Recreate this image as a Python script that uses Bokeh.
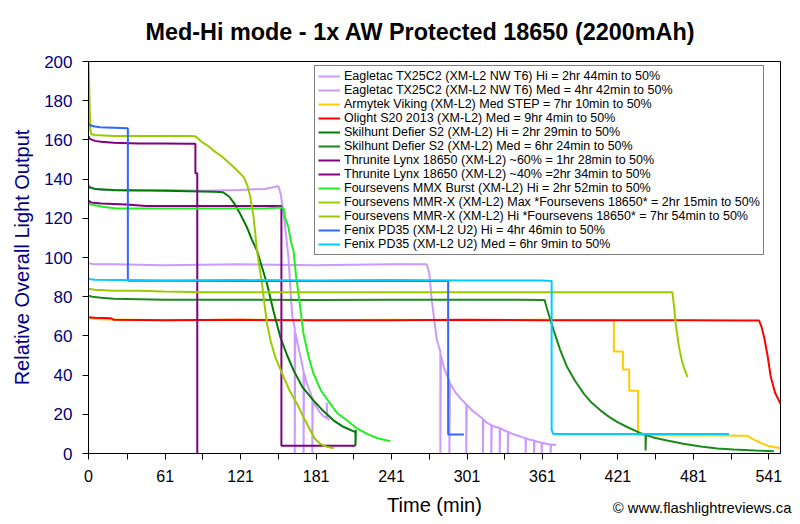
from bokeh.plotting import figure
from bokeh.models import Legend, LegendItem, FixedTicker, LinearAxis, Range1d
from bokeh.embed import file_html
from bokeh.resources import INLINE

FONT = "Liberation Sans"
NAVY = "#000080"

# ---- series data (minutes, relative output) ----
eag_hi_x = [0, 2, 10, 30, 60, 90, 120, 140, 148, 151, 153, 156, 159, 162, 164, 164, 164.4, 167, 170, 171, 171, 171.4,
            174, 177, 178, 178, 178.4, 181, 184, 187, 189.5, 189.5, 190, 191.5]
eag_hi_y = [137, 135.5, 134.5, 134, 134.5, 134, 134.5, 135, 136, 136.5, 132, 118, 100, 70, 64, 0, 62, 54, 45, 42, 0, 41,
            35, 30, 28, 0, 27, 24, 21, 19, 18, 26, 18, 17]

eag_med_x = [0, 5, 20, 60, 120, 180, 240, 265, 269, 271, 273, 275, 277, 279.8, 279.8, 280.2, 283, 287, 287, 287.4,
             292, 296, 300.4, 300.4, 300.8, 305, 309, 313.6, 313.6, 314, 317, 320.3, 320.3, 320.7, 324, 327, 327, 327.4,
             330, 333.5, 333.5, 333.9, 337, 341, 344, 347.6, 347.6, 348, 351, 354.3, 354.3, 354.7, 357, 360.3, 360.3,
             360.7, 364, 367.5, 367.5, 367.9, 372]
eag_med_y = [97, 96.5, 96.5, 96, 96.5, 96, 96.5, 96.5, 96.5, 92, 78, 68, 58, 52, 0, 50, 43, 37, 0, 36,
             31, 28, 25, 0, 25, 22, 20, 17.7, 0, 17.5, 15.5, 14.5, 0, 14.3, 13.5, 13, 0, 13,
             12, 11, 0, 11, 10, 9.2, 8.5, 7.8, 0, 7.7, 7, 6.6, 0, 6.5, 6, 5.5, 0,
             5.5, 5, 4.6, 0, 4.6, 4.4]

arm_x = [0, 10, 60, 120, 180, 240, 300, 360, 400, 417.8, 417.8, 425, 425, 430, 430, 437, 437, 445, 470, 500, 524,
         528, 534, 540, 545, 550]
arm_y = [69, 68.5, 68, 68.3, 68, 68.2, 68, 68.2, 68, 68, 52, 52, 42.8, 42.8, 32, 32, 9.5, 9.3, 9.2, 9.2, 9,
         7.5, 5.5, 4, 3.3, 2.8]

oli_x = [0, 5, 18, 20, 60, 120, 180, 240, 300, 360, 420, 480, 520, 533.3, 535, 537.3, 540, 542.6, 546, 550.3]
oli_y = [69.5, 69.3, 69, 68.2, 68, 68.2, 68, 68, 68.2, 68, 68, 68, 67.8, 67.8, 65, 59.3, 50, 39, 31, 25.3]

skh_hi_x = [0, 5, 20, 60, 100, 107, 112, 116, 120, 126, 130, 134, 138, 142, 147, 152.6, 158, 163.2, 170, 179, 187,
            195, 203, 212.3, 212.3, 212.6]
skh_hi_y = [136, 135, 134.5, 134, 133.5, 133.3, 131, 127.5, 123, 115.4, 109, 103.5, 95, 86.5, 73, 59.3, 50, 42.3, 34,
            27, 21.5, 16.8, 13.5, 10.9, 4, 12]

skh_med_x = [0, 3, 10, 20, 60, 120, 180, 240, 300, 340, 362.7, 365, 370, 375, 380.7, 387, 394, 400, 407.3, 414,
             420.6, 430, 439, 443, 443, 443.4, 450, 460, 473, 486.9, 500, 513, 530, 545]
skh_med_y = [80.5, 80, 79.5, 79, 78.5, 78.5, 78.3, 78.5, 78.5, 78.5, 78.3, 73, 62.7, 53, 44, 37, 30.4, 26, 21.9,
             18.7, 16, 13, 10.4, 9.7, 1.5, 9.5, 8, 6.6, 5, 3.6, 2.6, 2, 1.5, 1.2]

thr60_x = [0, 1, 5, 10, 20, 40, 60, 80, 85, 85, 86.5, 86.5]
thr60_y = [162, 160.5, 159.5, 159, 158.5, 158.2, 158.2, 158, 158, 143, 143, 0]

thr40_x = [0, 2, 10, 30, 46, 80, 120, 150, 153.4, 153.4, 180, 212.3]
thr40_y = [129, 128, 127.5, 127, 126.3, 126.3, 126.3, 126.3, 126.3, 4, 4, 4]

mmx_x = [0, 2, 10, 22, 60, 100, 140, 153, 155.2, 156.5, 159, 161, 163, 165, 167, 169, 171, 175, 179, 185, 192.4,
         198, 205.7, 213, 221.6, 230, 240]
mmx_y = [127.5, 127, 126, 125, 125, 125, 125, 125.5, 125, 120, 115.4, 108, 103.5, 91, 81.4, 71, 61, 49.5, 40.6, 32,
         25.3, 20.5, 16.8, 13, 10, 7.8, 6.3]

mmr_max_x = [0, 0.5, 1, 1.5, 2, 5, 20, 50, 80, 85, 90, 95, 99.5, 106, 112.8, 118, 123.4, 126.5, 128.7, 131.3, 134,
             136, 138, 140, 142, 145, 148.6, 155.2, 160, 165.9, 171, 176.5, 180, 184.4, 189, 195]
mmr_max_y = [200, 190, 175, 165, 163, 162.5, 162, 162, 162, 161.8, 159, 157, 154.5, 151.5, 147.7, 144.5, 141, 136.5,
             130.7, 120.5, 103.5, 95, 86.5, 76, 66, 57, 49, 39, 32, 25.3, 18.5, 11.7, 7.5, 4.9, 3.5, 2.7]

mmr_hi_x = [0, 5, 20, 40, 60, 94, 120, 180, 240, 300, 360, 420, 460, 464.3, 465.5, 467, 469.6, 472, 474, 476.3]
mmr_hi_y = [84, 83.5, 83, 83, 82.7, 82.3, 82.3, 82.3, 82.3, 82.3, 82.3, 82.3, 82.3, 82.3, 76, 66, 54.2, 47, 43, 39]

pd_hi_x = [0, 1, 5, 9, 20, 31.3, 31.3, 60, 120, 180, 240, 280, 286, 286, 292, 298.5]
pd_hi_y = [168.5, 167.5, 166.8, 166.4, 166.2, 166, 88.2, 88.2, 88, 88, 88.2, 88, 88, 9.7, 9.7, 9.7]

pd_med_x = [0, 5, 60, 120, 180, 240, 300, 360, 368.3, 368.3, 369.5, 400, 450, 509.4]
pd_med_y = [89, 88.6, 88.3, 88.5, 88.3, 88.5, 88.3, 88.3, 88, 12, 10, 10, 10, 10]

labels = [
    "Eagletac TX25C2 (XM-L2 NW T6) Hi = 2hr 44min to 50%",
    "Eagletac TX25C2 (XM-L2 NW T6) Med = 4hr 42min to 50%",
    "Armytek Viking (XM-L2) Med STEP = 7hr 10min to 50%",
    "Olight S20 2013 (XM-L2) Med = 9hr 4min to 50%",
    "Skilhunt Defier S2 (XM-L2) Hi = 2hr 29min to 50%",
    "Skilhunt Defier S2 (XM-L2) Med = 6hr 24min to 50%",
    "Thrunite Lynx 18650 (XM-L2) ~60% = 1hr 28min to 50%",
    "Thrunite Lynx 18650 (XM-L2) ~40% =2hr 34min to 50%",
    "Foursevens MMX Burst (XM-L2) Hi = 2hr 52min to 50%",
    "Foursevens MMR-X (XM-L2) Max *Foursevens 18650* = 2hr 15min to 50%",
    "Foursevens MMR-X (XM-L2) Hi *Foursevens 18650* = 7hr 54min to 50%",
    "Fenix PD35 (XM-L2 U2) Hi = 4hr 46min to 50%",
    "Fenix PD35 (XM-L2 U2) Med = 6hr 9min to 50%",
]
colors = ["#CC99FF", "#CC99FF", "#FFCC00", "#FF0000", "#007A00", "#1A8A1A", "#800080", "#800080",
          "#22EE22", "#99CC00", "#99CC00", "#3366FF", "#00CCFF"]
series = [(eag_hi_x, eag_hi_y), (eag_med_x, eag_med_y), (arm_x, arm_y), (oli_x, oli_y),
          (skh_hi_x, skh_hi_y), (skh_med_x, skh_med_y), (thr60_x, thr60_y), (thr40_x, thr40_y),
          (mmx_x, mmx_y), (mmr_max_x, mmr_max_y), (mmr_hi_x, mmr_hi_y), (pd_hi_x, pd_hi_y), (pd_med_x, pd_med_y)]

x_ticks = [0, 31, 61, 91, 121, 151, 181, 211, 241, 271, 301, 331, 361, 391, 421, 451, 481, 511, 541]
x_tick_labels = ["0", "", "61", "", "121", "", "181", "", "241", "", "301", "", "361", "", "421", "", "481", "", "541"]
y_ticks = [0, 20, 40, 60, 80, 100, 120, 140, 160, 180, 200]
credit_pos = 488
credit_text = "\u00a9 www.flashlightreviews.ca"

p = figure(width=800, height=524, output_backend="svg", toolbar_location=None,
           x_range=Range1d(0, 550.3), y_range=Range1d(0, 200),
           min_border_left=88, min_border_right=20, min_border_top=61, min_border_bottom=71,
           title="Med-Hi mode - 1x AW Protected 18650 (2200mAh)")
p.background_fill_color = "white"
p.border_fill_color = "white"
p.outline_line_color = "black"
p.outline_line_width = 1
p.xgrid.visible = False
p.ygrid.visible = False

p.title.text_font = FONT
p.title.text_font_size = "23.4px"
p.title.text_font_style = "bold"
p.title.text_color = "black"
p.title.align = "left"
p.title.offset = 57
p.title.standoff = 33

xa = p.xaxis[0]
xa.ticker = FixedTicker(ticks=x_ticks)
xa.major_label_overrides = {t: l for t, l in zip(x_ticks, x_tick_labels)}
xa.major_label_text_font = FONT
xa.major_label_text_font_size = "16px"
xa.major_label_text_color = "black"
xa.major_label_standoff = 10
xa.major_tick_out = 6
xa.major_tick_in = 0
xa.minor_tick_out = 0
xa.axis_line_color = "black"
xa.major_tick_line_color = "black"

# second (invisible) axis below: copyright as a label, axis title "Time (min)"
xa2 = LinearAxis(ticker=FixedTicker(ticks=[credit_pos]),
                 major_label_overrides={credit_pos: credit_text})
xa2.axis_line_color = None
xa2.major_tick_line_color = None
xa2.minor_tick_line_color = None
xa2.major_tick_out = 0
xa2.major_tick_in = 0
xa2.minor_tick_out = 0
xa2.major_label_text_font = FONT
xa2.major_label_text_font_size = "14.8px"
xa2.major_label_text_color = "black"
xa2.major_label_standoff = 15
xa2.axis_label = "Time (min)"
xa2.axis_label_text_font = FONT
xa2.axis_label_text_font_size = "20px"
xa2.axis_label_text_font_style = "normal"
xa2.axis_label_text_color = "black"
xa2.axis_label_standoff = -25
p.add_layout(xa2, "below")

ya = p.yaxis[0]
ya.ticker = FixedTicker(ticks=y_ticks)
ya.axis_label = "Relative Overall Light Output"
ya.axis_label_text_font = FONT
ya.axis_label_text_font_size = "20px"
ya.axis_label_text_font_style = "normal"
ya.axis_label_text_color = NAVY
ya.axis_label_standoff = 8
ya.major_label_text_font = FONT
ya.major_label_text_font_size = "17px"
ya.major_label_text_color = NAVY
ya.major_label_standoff = 10
ya.major_tick_out = 6
ya.major_tick_in = 0
ya.minor_tick_out = 0
ya.axis_line_color = "black"
ya.major_tick_line_color = "black"

items = []
for (xs, ys), c, lab in zip(series, colors, labels):
    r = p.line(xs, ys, line_color=c, line_width=2)
    items.append(LegendItem(label=lab, renderers=[r]))

legend = Legend(items=items, location=(226, 198))
legend.label_text_font = FONT
legend.label_text_font_size = "12.5px"
legend.label_text_color = "black"
legend.glyph_width = 22
legend.glyph_height = 10
legend.label_height = 10
legend.label_standoff = 4
legend.spacing = 0
legend.padding = 3
legend.margin = 0
legend.border_line_color = "black"
legend.border_line_width = 1
legend.background_fill_color = "white"
legend.background_fill_alpha = 1.0
p.add_layout(legend)

open("out.html", "w").write(file_html(p, INLINE))
